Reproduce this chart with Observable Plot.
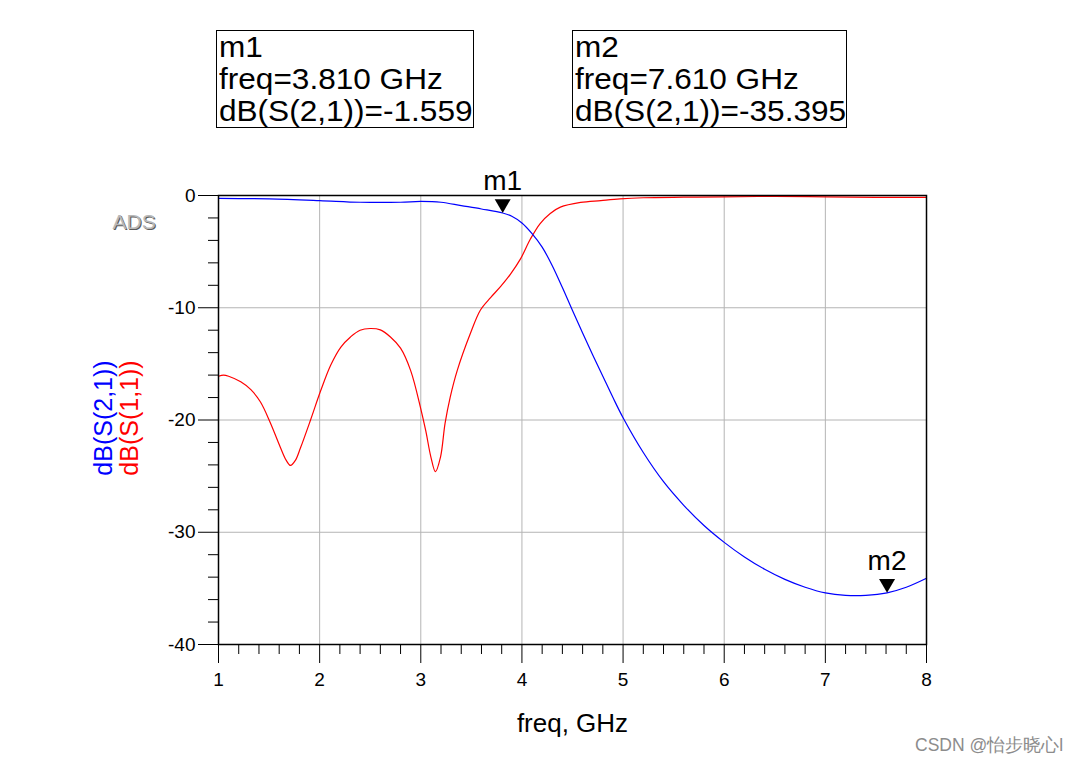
<!DOCTYPE html>
<html>
<head>
<meta charset="utf-8">
<script src="https://cdn.jsdelivr.net/npm/d3@7"></script>
<script src="https://cdn.jsdelivr.net/npm/@observablehq/plot@0.6"></script>
<style>
  html, body { margin: 0; padding: 0; background: #fff; }
  #wrap { position: relative; width: 1080px; height: 763px; font-family: "Liberation Sans", Arial, sans-serif; }
  .mbox { position: absolute; top: 30px; height: 96px; border: 1px solid #000; background: #fff; color: #000; }
  .mline { position: absolute; left: 2px; height: 32px; line-height: 32px; font-size: 29.5px; white-space: nowrap;
           transform: scaleX(1.07); transform-origin: 0 50%; }
  .wm { position: absolute; left: 915px; top: 733px; font-size: 17.5px; color: #8c8c8c; white-space: nowrap; }
</style>
</head>
<body>
<div id="wrap"></div>
<script>
// ---- data ----
const freqS21 = [1.0, 1.5, 2.0, 2.4, 2.8, 3.0, 3.2, 3.4, 3.6, 3.81, 3.9, 4.0, 4.1, 4.2, 4.3, 4.4, 4.5, 4.6, 4.7, 4.8, 4.9, 5.0, 5.2, 5.4, 5.6, 5.8, 6.0, 6.2, 6.4, 6.6, 6.8, 7.0, 7.2, 7.4, 7.61, 7.8, 8.0];
const dbS21   = [-0.25, -0.3, -0.45, -0.6, -0.6, -0.53, -0.6, -0.9, -1.2, -1.559, -1.85, -2.45, -3.4, -4.6, -6.25, -8.2, -10.25, -12.25, -14.2, -16.1, -18.0, -19.8, -22.9, -25.5, -27.6, -29.4, -30.9, -32.2, -33.3, -34.2, -34.9, -35.4, -35.62, -35.62, -35.395, -34.9, -34.1];

const freqS11 = [1.0, 1.05, 1.1, 1.22, 1.32, 1.415, 1.51, 1.61, 1.67, 1.712, 1.76, 1.81, 1.91, 2.01, 2.11, 2.21, 2.305, 2.4, 2.5, 2.6, 2.7, 2.8, 2.9, 3.0, 3.05, 3.1, 3.145, 3.195, 3.24, 3.29, 3.36, 3.49, 3.59, 3.69, 3.79, 3.887, 3.986, 4.085, 4.18, 4.28, 4.38, 4.58, 4.78, 4.97, 5.2, 5.6, 6.0, 6.5, 7.0, 7.5, 8.0];
const dbS11   = [-16.1, -16.0, -16.1, -16.6, -17.3, -18.4, -20.2, -22.4, -23.6, -24.05, -23.6, -22.5, -20.0, -17.4, -15.1, -13.5, -12.6, -12.0, -11.85, -11.97, -12.6, -13.6, -15.6, -19.0, -21.0, -23.3, -24.6, -23.3, -20.3, -18.0, -15.6, -12.3, -10.2, -9.1, -8.1, -7.0, -5.65, -3.86, -2.5, -1.6, -1.04, -0.62, -0.45, -0.3, -0.2, -0.15, -0.12, -0.08, -0.12, -0.16, -0.17];

const markerNames = ["m1", "m2"];
const markerFreq  = [3.81, 7.61];
const markerDb    = [-1.559, -35.395];

const xTicks = [1, 2, 3, 4, 5, 6, 7, 8];
const yTicks = [0, -10, -20, -30, -40];
const xMinor = [1.2, 1.4, 1.6, 1.8, 2.2, 2.4, 2.6, 2.8, 3.2, 3.4, 3.6, 3.8, 4.2, 4.4, 4.6, 4.8, 5.2, 5.4, 5.6, 5.8, 6.2, 6.4, 6.6, 6.8, 7.2, 7.4, 7.6, 7.8];
const yMinor = [-2, -4, -6, -8, -12, -14, -16, -18, -22, -24, -26, -28, -32, -34, -36, -38];
const xGrid = [2, 3, 4, 5, 6, 7];
const yGrid = [-10, -20, -30];

const xTitle = "freq, GHz";
const s21Label = "dB(S(2,1))";
const s11Label = "dB(S(1,1))";

// ---- build ----
const s21 = freqS21.map((f, i) => ({f, db: dbS21[i]}));
const s11 = freqS11.map((f, i) => ({f, db: dbS11[i]}));
const markers = markerNames.map((name, i) => ({name, f: markerFreq[i], db: markerDb[i]}));

const chart = Plot.plot({
  width: 1080,
  height: 763,
  marginLeft: 218,
  marginRight: 154,
  marginTop: 195,
  marginBottom: 119,
  style: {fontFamily: "'Liberation Sans', Arial, sans-serif", background: "#fff", color: "#000"},
  x: {domain: [1, 8], nice: false},
  y: {domain: [-40, 0], nice: false},
  marks: [
    Plot.gridX(xGrid, {stroke: "#b4b4b4", strokeOpacity: 1, strokeWidth: 1}),
    Plot.gridY(yGrid, {stroke: "#b4b4b4", strokeOpacity: 1, strokeWidth: 1}),
    Plot.axisX(xTicks, {tickSize: 19, tickPadding: 9, fontSize: 19, label: null, tickFormat: d => String(d)}),
    Plot.axisX(xMinor, {tickSize: 10, label: null, tickFormat: () => ""}),
    Plot.axisY(yTicks, {tickSize: 20, tickPadding: 3, fontSize: 19, label: null, tickFormat: d => String(d)}),
    Plot.axisY(yMinor, {tickSize: 10, label: null, tickFormat: () => ""}),
    Plot.line(s11, {x: "f", y: "db", stroke: "#ff0000", strokeWidth: 1.2, curve: "catmull-rom"}),
    Plot.line(s21, {x: "f", y: "db", stroke: "#0000ff", strokeWidth: 1.2, curve: "catmull-rom"}),
    Plot.frame({stroke: "#000", strokeWidth: 1.5}),
    Plot.dot(markers, {x: "f", y: "db", symbol: "triangle", r: 5.94, rotate: 180, fill: "#000", stroke: null, dy: -9.24}),
    Plot.text(markers, {x: "f", y: "db", text: "name", fontSize: 28, dy: -32, fill: "#000"}),
    Plot.text([xTitle], {frameAnchor: "bottom", text: d => d, fontSize: 26, dy: 87, fill: "#000"}),
    Plot.text([s21Label], {frameAnchor: "left", textAnchor: "middle", text: d => d, rotate: -90, fontSize: 25, dx: -115, dy: -2, fill: "#0000ff"}),
    Plot.text([s11Label], {frameAnchor: "left", textAnchor: "middle", text: d => d, rotate: -90, fontSize: 25, dx: -89, dy: -2, fill: "#ff0000"}),
    Plot.text(["ADS"], {frameAnchor: "top-left", textAnchor: "start", text: d => d, fontSize: 21, dx: -105, dy: 20, fill: "#5a5a5a"}),
    Plot.text(["ADS"], {frameAnchor: "top-left", textAnchor: "start", text: d => d, fontSize: 21, dx: -106, dy: 19, fill: "#b8b8b8"})
  ]
});

const wrap = document.getElementById("wrap");
wrap.appendChild(chart);
chart.style.position = "absolute";
chart.style.left = "0px";
chart.style.top = "0px";

const fmt3 = v => v.toFixed(3);
const boxLeft = [216, 572];
const boxWidth = [256, 273];
markers.forEach((m, i) => {
  const div = document.createElement("div");
  div.className = "mbox";
  div.style.left = boxLeft[i] + "px";
  div.style.width = boxWidth[i] + "px";
  const lines = [m.name, `freq=${fmt3(m.f)} GHz`, `dB(S(2,1))=${fmt3(m.db)}`];
  lines.forEach((t, j) => {
    const ln = document.createElement("div");
    ln.className = "mline";
    ln.style.top = (j * 32) + "px";
    ln.textContent = t;
    div.appendChild(ln);
  });
  wrap.appendChild(div);
});

const wm = document.createElement("div");
wm.className = "wm";
wm.textContent = "CSDN @怡步晓心l";
wrap.appendChild(wm);
</script>
</body>
</html>
